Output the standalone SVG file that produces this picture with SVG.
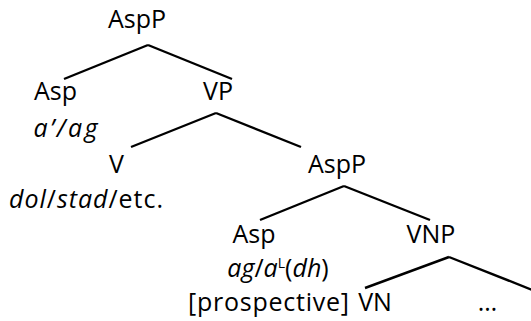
<svg xmlns="http://www.w3.org/2000/svg" width="531" height="321" viewBox="0 0 531 321">
  <style>
    text { font-family: "Open Sans", "Noto Sans", "Liberation Sans", sans-serif; font-size: 25px; fill: #000; text-anchor: middle; }
    .it { font-style: italic; }
    .sup { font-size: 14px; }
    .edge { stroke: #000; stroke-width: 2.4; fill: none; stroke-linecap: butt; }
  </style>
  <rect width="531" height="321" fill="#fff"/>
  <g id="connectors">
    <line class="edge" x1="148" y1="45" x2="64" y2="79"/>
    <line class="edge" x1="148" y1="45" x2="232" y2="79"/>
    <line class="edge" x1="216" y1="113" x2="131" y2="147"/>
    <line class="edge" x1="216" y1="113" x2="301" y2="147"/>
    <line class="edge" x1="344" y1="186" x2="260" y2="220"/>
    <line class="edge" x1="344" y1="186" x2="430" y2="220"/>
    <line class="edge" x1="449" y1="257" x2="365" y2="288"/>
    <line class="edge" x1="449" y1="257" x2="535" y2="291"/>
  </g>
  <g id="n-asp-p-top"><text x="137" y="28">AspP</text></g>
  <g id="n-asp-top">
    <text x="55.5" y="100">Asp</text>
    <text x="65.5" y="137" class="it" textLength="64">a’/ag</text>
  </g>
  <g id="n-vp"><text x="218" y="100">VP</text></g>
  <g id="n-v">
    <text x="116.5" y="173">V</text>
    <text x="86" y="208" textLength="154"><tspan class="it">dol</tspan>/<tspan class="it">stad</tspan>/etc.</text>
  </g>
  <g id="n-asp-p-low"><text x="337" y="173">AspP</text></g>
  <g id="n-asp-low">
    <text x="254" y="243">Asp</text>
    <text x="278" y="277"><tspan class="it">ag</tspan>/<tspan class="it">a</tspan><tspan class="sup" dy="-9">L</tspan><tspan dy="9">(</tspan><tspan class="it">dh</tspan>)</text>
    <text x="268.5" y="311" textLength="161">[prospective]</text>
  </g>
  <g id="n-vnp"><text x="431" y="243">VNP</text></g>
  <g id="n-vn"><text x="375" y="311">VN</text></g>
  <g id="n-rest"><text x="487.5" y="311">…</text></g>
</svg>
